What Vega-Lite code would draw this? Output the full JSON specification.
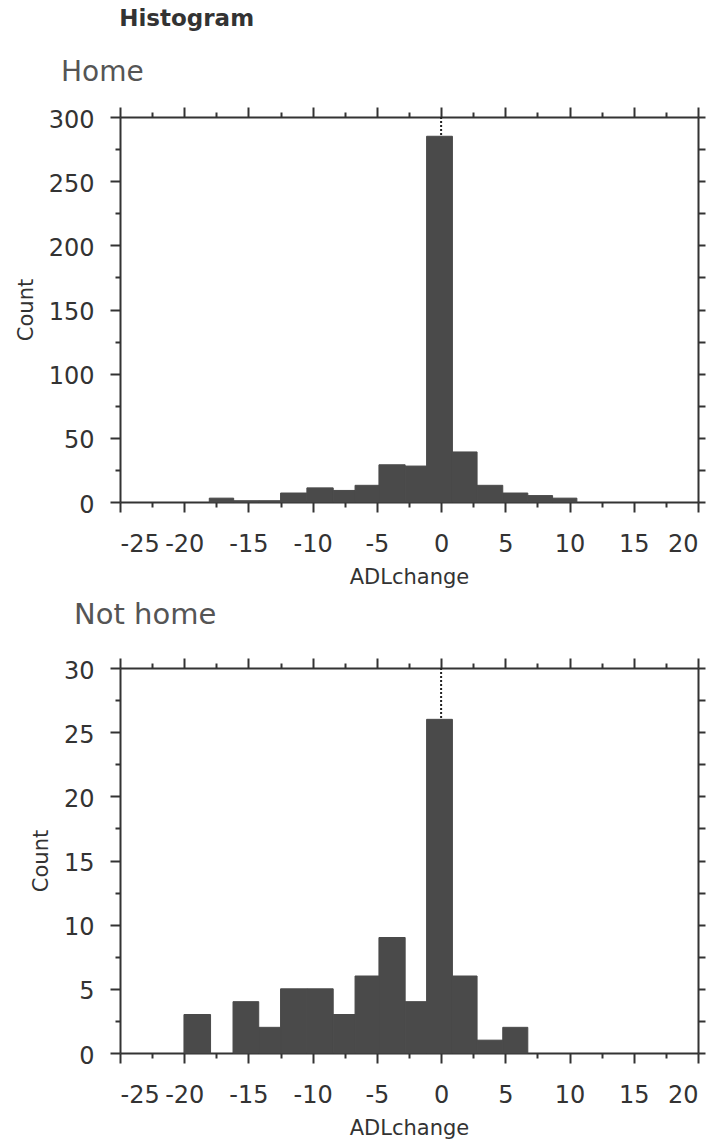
{
  "$schema": "https://vega.github.io/schema/vega-lite/v6.json",
  "padding": {"left": 15, "top": 8, "right": 5, "bottom": 5},
  "background": "white",
  "title": {"text": "Histogram", "anchor": "start", "fontSize": 23, "fontWeight": "bold", "font": "DejaVu Sans", "color": "#333", "dx": 104, "offset": 28},
  "datasets": {
    "home": [
      {"bin_start": -18.05, "bin_end": -16.15, "count": 3},
      {"bin_start": -16.15, "bin_end": -14.2, "count": 1},
      {"bin_start": -14.2, "bin_end": -12.5, "count": 1},
      {"bin_start": -12.5, "bin_end": -10.45, "count": 7},
      {"bin_start": -10.45, "bin_end": -8.4, "count": 11},
      {"bin_start": -8.4, "bin_end": -6.7, "count": 9},
      {"bin_start": -6.7, "bin_end": -4.84, "count": 13},
      {"bin_start": -4.84, "bin_end": -2.8, "count": 29},
      {"bin_start": -2.8, "bin_end": -1.13, "count": 28},
      {"bin_start": -1.13, "bin_end": 0.88, "count": 285},
      {"bin_start": 0.88, "bin_end": 2.8, "count": 39},
      {"bin_start": 2.8, "bin_end": 4.8, "count": 13},
      {"bin_start": 4.8, "bin_end": 6.75, "count": 7},
      {"bin_start": 6.75, "bin_end": 8.68, "count": 5},
      {"bin_start": 8.68, "bin_end": 10.57, "count": 3}
    ],
    "nothome": [
      {"bin_start": -20.02, "bin_end": -17.95, "count": 3},
      {"bin_start": -16.2, "bin_end": -14.2, "count": 4},
      {"bin_start": -14.2, "bin_end": -12.5, "count": 2},
      {"bin_start": -12.5, "bin_end": -10.45, "count": 5},
      {"bin_start": -10.45, "bin_end": -8.4, "count": 5},
      {"bin_start": -8.4, "bin_end": -6.7, "count": 3},
      {"bin_start": -6.7, "bin_end": -4.84, "count": 6},
      {"bin_start": -4.84, "bin_end": -2.8, "count": 9},
      {"bin_start": -2.8, "bin_end": -1.13, "count": 4},
      {"bin_start": -1.13, "bin_end": 0.88, "count": 26},
      {"bin_start": 0.88, "bin_end": 2.8, "count": 6},
      {"bin_start": 2.8, "bin_end": 4.8, "count": 1},
      {"bin_start": 4.8, "bin_end": 6.75, "count": 2}
    ]
  },
  "config": {
    "view": {"stroke": null},
    "axis": {
      "domainColor": "#333", "domainWidth": 2, "tickColor": "#333", "tickWidth": 2,
      "labelFont": "DejaVu Sans", "labelFontSize": 24, "labelColor": "#333",
      "titleFont": "DejaVu Sans", "titleFontSize": 21, "titleFontWeight": "normal", "titleColor": "#333",
      "grid": false, "labelOverlap": false
    }
  },
  "spacing": 14,
  "vconcat": [
    {
      "title": {"text": "Home", "anchor": "start", "frame": "group", "dx": -59, "offset": 19, "fontSize": 28, "fontWeight": "normal", "color": "#555", "font": "DejaVu Sans"},
      "width": 578,
      "height": 385,
      "resolve": {"axis": {"x": "independent", "y": "independent"}},
      "layer": [
        {
          "data": {"values": [{}]},
          "mark": {"type": "rule", "strokeDash": [2, 2], "strokeWidth": 2, "color": "#222"},
          "encoding": {
            "x": {"datum": 0, "type": "quantitative", "scale": {"domain": [-25, 20], "nice": false},
                  "axis": {"orient": "top", "values": [-25, -20, -15, -10, -5, 0, 5, 10, 15, 20], "tickSize": 10, "labels": false, "title": null}}
          }
        },
        {
          "data": {"name": "home"},
          "mark": {"type": "bar", "color": "#4a4a4a", "stroke": "#4a4a4a", "strokeWidth": 1},
          "encoding": {
            "x": {"field": "bin_start", "type": "quantitative", "scale": {"domain": [-25, 20], "nice": false},
                  "axis": {"orient": "bottom", "values": [-25, -20, -15, -10, -5, 0, 5, 10, 15, 20], "tickSize": 10, "labelPadding": 20, "title": "ADLchange", "titlePadding": 10,
                           "labelExpr": "datum.value < 0 ? '-' + abs(datum.value) : '' + datum.value"}},
            "x2": {"field": "bin_end"},
            "y": {"field": "count", "type": "quantitative", "scale": {"domain": [0, 300], "nice": false},
                  "axis": {"orient": "left", "values": [0, 50, 100, 150, 200, 250, 300], "tickSize": 10, "labelPadding": 16, "labelOffset": 3, "title": "Count", "titlePadding": 12}},
            "y2": {"datum": 0}
          }
        },
        {
          "data": {"values": [{}]},
          "mark": {"type": "point", "opacity": 0},
          "encoding": {
            "x": {"datum": 0, "type": "quantitative", "axis": {"orient": "bottom", "values": [-22.5, -17.5, -12.5, -7.5, -2.5, 2.5, 7.5, 12.5, 17.5], "tickSize": 5, "labels": false, "domain": false, "title": null}},
            "y": {"datum": 0, "type": "quantitative", "axis": {"orient": "left", "values": [25, 75, 125, 175, 225, 275], "tickSize": 5, "labels": false, "domain": false, "title": null}}
          }
        },
        {
          "data": {"values": [{}]},
          "mark": {"type": "point", "opacity": 0},
          "encoding": {
            "x": {"datum": 0, "type": "quantitative", "axis": {"orient": "top", "values": [-22.5, -17.5, -12.5, -7.5, -2.5, 2.5, 7.5, 12.5, 17.5], "tickSize": 5, "labels": false, "domain": false, "title": null}},
            "y": {"datum": 0, "type": "quantitative", "axis": {"orient": "right", "values": [0, 25, 50, 75, 100, 125, 150, 175, 200, 225, 250, 275, 300], "tickSize": 7, "labels": false, "title": null}}
          }
        }
      ]
    },
    {
      "title": {"text": "Not home", "anchor": "start", "frame": "group", "dx": -46, "offset": 27, "fontSize": 29, "fontWeight": "normal", "color": "#555", "font": "DejaVu Sans"},
      "width": 578,
      "height": 385,
      "resolve": {"axis": {"x": "independent", "y": "independent"}},
      "layer": [
        {
          "data": {"values": [{}]},
          "mark": {"type": "rule", "strokeDash": [2, 2], "strokeWidth": 2, "color": "#222"},
          "encoding": {
            "x": {"datum": 0, "type": "quantitative", "scale": {"domain": [-25, 20], "nice": false},
                  "axis": {"orient": "top", "values": [-25, -20, -15, -10, -5, 0, 5, 10, 15, 20], "tickSize": 10, "labels": false, "title": null}}
          }
        },
        {
          "data": {"name": "nothome"},
          "mark": {"type": "bar", "color": "#4a4a4a", "stroke": "#4a4a4a", "strokeWidth": 1},
          "encoding": {
            "x": {"field": "bin_start", "type": "quantitative", "scale": {"domain": [-25, 20], "nice": false},
                  "axis": {"orient": "bottom", "values": [-25, -20, -15, -10, -5, 0, 5, 10, 15, 20], "tickSize": 10, "labelPadding": 20, "title": "ADLchange", "titlePadding": 10,
                           "labelExpr": "datum.value < 0 ? '-' + abs(datum.value) : '' + datum.value"}},
            "x2": {"field": "bin_end"},
            "y": {"field": "count", "type": "quantitative", "scale": {"domain": [0, 30], "nice": false},
                  "axis": {"orient": "left", "values": [0, 5, 10, 15, 20, 25, 30], "tickSize": 10, "labelPadding": 16, "labelOffset": 3, "title": "Count", "titlePadding": 12}},
            "y2": {"datum": 0}
          }
        },
        {
          "data": {"values": [{}]},
          "mark": {"type": "point", "opacity": 0},
          "encoding": {
            "x": {"datum": 0, "type": "quantitative", "axis": {"orient": "bottom", "values": [-22.5, -17.5, -12.5, -7.5, -2.5, 2.5, 7.5, 12.5, 17.5], "tickSize": 5, "labels": false, "domain": false, "title": null}},
            "y": {"datum": 0, "type": "quantitative", "axis": {"orient": "left", "values": [2.5, 7.5, 12.5, 17.5, 22.5, 27.5], "tickSize": 5, "labels": false, "domain": false, "title": null}}
          }
        },
        {
          "data": {"values": [{}]},
          "mark": {"type": "point", "opacity": 0},
          "encoding": {
            "x": {"datum": 0, "type": "quantitative", "axis": {"orient": "top", "values": [-22.5, -17.5, -12.5, -7.5, -2.5, 2.5, 7.5, 12.5, 17.5], "tickSize": 5, "labels": false, "domain": false, "title": null}},
            "y": {"datum": 0, "type": "quantitative", "axis": {"orient": "right", "values": [0, 2.5, 5, 7.5, 10, 12.5, 15, 17.5, 20, 22.5, 25, 27.5, 30], "tickSize": 7, "labels": false, "title": null}}
          }
        }
      ]
    }
  ]
}
